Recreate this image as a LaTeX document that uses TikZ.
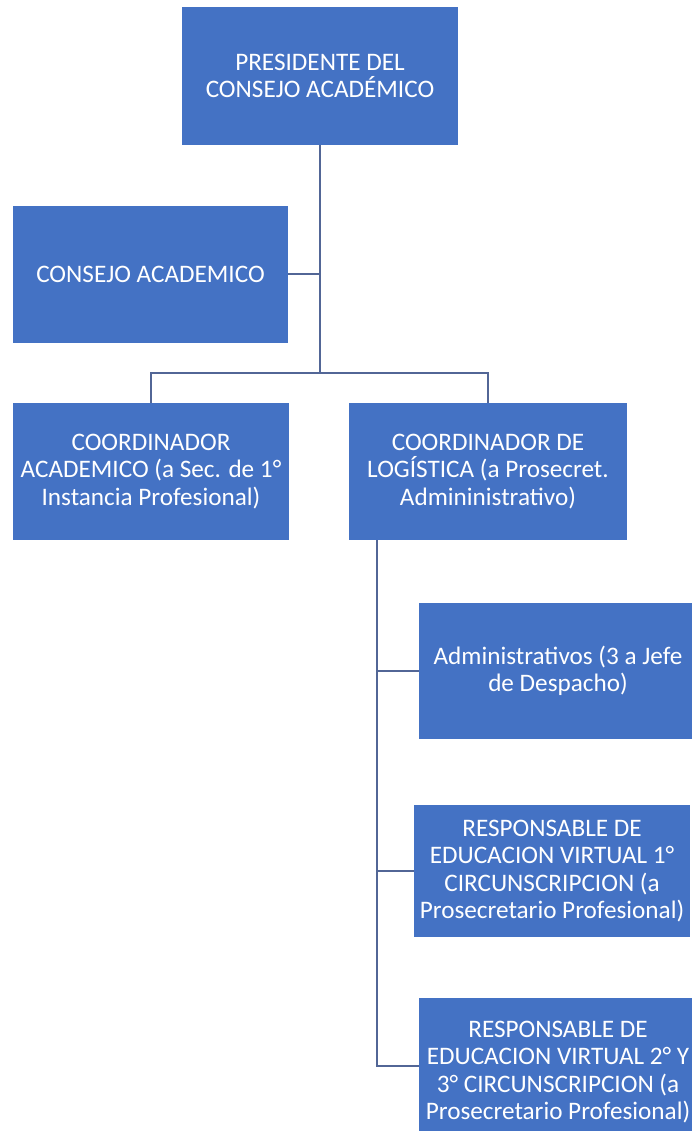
\documentclass[tikz,border=0pt]{standalone}
\usepackage{fontspec}
\setmainfont{Carlito}
\definecolor{boxblue}{HTML}{4472C4}
\definecolor{linecol}{RGB}{82,102,150}
\begin{document}
\begin{tikzpicture}[x=1pt,y=1pt,
  orgbox/.style={rectangle, fill=boxblue, draw=none, text=white, align=center, inner sep=0pt,
    font=\fontsize{25.2}{27.5}\selectfont},
  conn/.style={draw=linecol, line width=2pt}]
\useasboundingbox (0,0) rectangle (692,-1131);
\fill[white] (0,0) rectangle (692,-1131);
\node[orgbox, minimum width=276pt, minimum height=138pt] (pres) at (320,-76) {PRESIDENTE DEL\\CONSEJO ACADÉMICO};
\node[orgbox, minimum width=275pt, minimum height=137pt] (consejo) at (150.5,-274.5) {CONSEJO ACADEMICO};
\node[orgbox, minimum width=276pt, minimum height=137pt] (coordA) at (151,-471.5) {COORDINADOR\\ACADEMICO (a Sec. de 1°\\Instancia Profesional)};
\node[orgbox, minimum width=278pt, minimum height=137pt] (coordL) at (488,-471.5) {COORDINADOR DE\\LOGÍSTICA (a Prosecret.\\Admininistrativo)};
\node[orgbox, minimum width=278pt, minimum height=136pt] (admin) at (558,-671) {Administrativos (3 a Jefe\\de Despacho)};
\node[orgbox, minimum width=276pt, minimum height=132pt] (resp1) at (552,-871) {RESPONSABLE DE\\EDUCACION VIRTUAL 1°\\CIRCUNSCRIPCION (a\\Prosecretario Profesional)};
\node[orgbox, minimum width=278pt, minimum height=148pt] (resp2) at (558,-1072) {RESPONSABLE DE\\EDUCACION VIRTUAL 2° Y\\3° CIRCUNSCRIPCION (a\\Prosecretario Profesional)};
\coordinate (bus) at (320,-373);
\coordinate (spine) at (377,-540);
\draw[conn] (pres.south) -- (bus);
\draw[conn] (consejo.east) -- (consejo.east -| pres.south);
\draw[conn] (coordA.north) |- (bus) -| (coordL.north);
\draw[conn] (spine) |- (admin.west);
\draw[conn] (spine) |- (resp1.west);
\draw[conn] (spine) |- ([yshift=6pt]resp2.west);
\end{tikzpicture}
\end{document}
